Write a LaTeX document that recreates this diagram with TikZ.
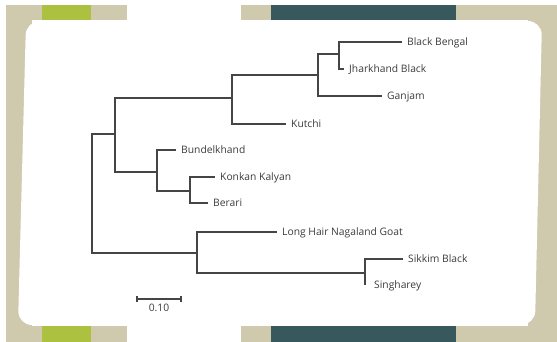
\documentclass[tikz,border=0pt]{standalone}
\usepackage{fontspec}
\setmainfont{Open Sans}
\definecolor{beige}{HTML}{CFC9AE}
\definecolor{lime}{HTML}{ABC13F}
\definecolor{tealbar}{HTML}{37595E}
\definecolor{branchc}{HTML}{454545}
\definecolor{txt}{HTML}{3C3C3C}
\begin{document}
\begin{tikzpicture}[x=1pt,y=-1pt,
  branch/.style={draw=branchc, line width=1.2pt},
  leaf/.style={anchor=base west, inner sep=0pt, xshift=5pt, yshift=-3.5pt, text=txt, font=\fontsize{10.3}{12}\selectfont},
  band/.style={fill=beige, draw=none}]
\useasboundingbox (0,0) rectangle (557,342);
\fill[white] (0,0) rectangle (557,342);
% frame
\fill[beige] (6,5) rectangle (127,20);
\fill[beige] (241,5) rectangle (557,20);
\fill[beige] (6,326) rectangle (127,342);
\fill[beige] (241,326) rectangle (557,342);
\fill[beige] (6,5) rectangle (32,342);
\fill[beige] (528,5) rectangle (557,342);
\fill[lime] (42,5) rectangle (91,20);
\fill[lime] (42,326) rectangle (91,342);
\fill[tealbar] (271,5) rectangle (456,20);
\fill[tealbar] (271,326) rectangle (456,342);
% card
\fill[white, rounded corners=14pt] (26,21) -- (542,21) -- (535,325) -- (18,325) -- cycle;
% internal nodes
\coordinate (R) at (92,193);
\coordinate (A) at (115,134);
\coordinate (B) at (232,98);
\coordinate (C) at (318,75);
\coordinate (D) at (339,54);
\coordinate (E) at (157,172);
\coordinate (F) at (190,191);
\coordinate (G) at (197,253);
\coordinate (H) at (365,273);
% tips
\coordinate (tBB) at (402,42);
\coordinate (tJB) at (344,69);
\coordinate (tGa) at (382,96);
\coordinate (tKu) at (286,124);
\coordinate (tBu) at (176,150);
\coordinate (tKK) at (215,177);
\coordinate (tBe) at (208,203);
\coordinate (tLH) at (277,232);
\coordinate (tSB) at (403,259);
\coordinate (tSi) at (365,285);
% branches
\draw[branch] (R) |- (A);
\draw[branch] (R) |- (G);
\draw[branch] (A) |- (B);
\draw[branch] (A) |- (E);
\draw[branch] (B) |- (C);
\draw[branch] (B) |- (tKu);
\draw[branch] (C) |- (D);
\draw[branch] (C) |- (tGa);
\draw[branch] (D) |- (tBB);
\draw[branch] (D) |- (tJB);
\draw[branch] (E) |- (tBu);
\draw[branch] (E) |- (F);
\draw[branch] (F) |- (tKK);
\draw[branch] (F) |- (tBe);
\draw[branch] (G) |- (tLH);
\draw[branch] (G) |- (H);
\draw[branch] (H) |- (tSB);
\draw[branch] (H) |- (tSi);
% labels
\node[leaf] (lBB) at (tBB) {Black Bengal};
\node[leaf] (lJB) at (tJB) {Jharkhand Black};
\node[leaf] (lGa) at (tGa) {Ganjam};
\node[leaf] (lKu) at (tKu) {Kutchi};
\node[leaf] (lBu) at (tBu) {Bundelkhand};
\node[leaf] (lKK) at (tKK) {Konkan Kalyan};
\node[leaf] (lBe) at (tBe) {Berari};
\node[leaf] (lLH) at (tLH) {Long Hair Nagaland Goat};
\node[leaf] (lSB) at (tSB) {Sikkim Black};
\node[leaf, xshift=4pt] (lSi) at (tSi) {Singharey};
% scale bar
\coordinate (s1) at (137,299);
\coordinate (s2) at (181,299);
\draw[branch] (s1) -- (s2);
\draw[branch] ([yshift=3pt]s1) -- ([yshift=-3pt]s1);
\draw[branch] ([yshift=3pt]s2) -- ([yshift=-3pt]s2);
\node[text=txt, font=\fontsize{10.3}{12}\selectfont, inner sep=0pt] (sl) at (159,308) {0.10};
\end{tikzpicture}
\end{document}
